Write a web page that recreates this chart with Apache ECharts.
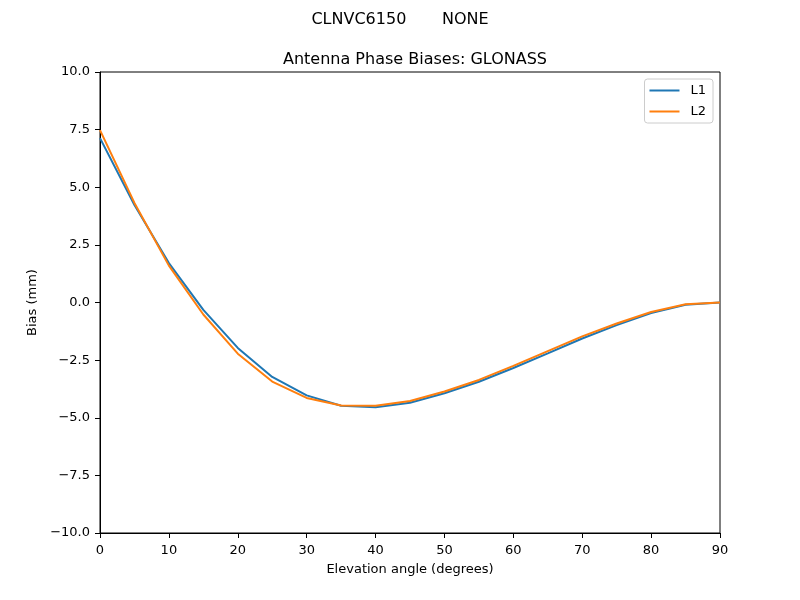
<!DOCTYPE html>
<html>
<head>
<meta charset="utf-8">
<script src="https://cdn.jsdelivr.net/npm/echarts@6/dist/echarts.min.js"></script>
<style>
html, body { margin: 0; padding: 0; background: #fff; }
#main { width: 800px; height: 600px; }
</style>
</head>
<body>
<div id="main"></div>
<script>
// elevation angles (degrees)
var elevation = [0, 5, 10, 15, 20, 25, 30, 35, 40, 45, 50, 55, 60, 65, 70, 75, 80, 85, 90];
// biases (mm)
var l1Bias = [7.13, 4.23, 1.71, -0.32, -1.97, -3.23, -4.03, -4.48, -4.54, -4.35, -3.94, -3.44, -2.84, -2.21, -1.56, -0.98, -0.46, -0.1, 0];
var l2Bias = [7.48, 4.32, 1.6, -0.52, -2.22, -3.43, -4.14, -4.47, -4.48, -4.27, -3.86, -3.36, -2.75, -2.11, -1.47, -0.91, -0.41, -0.08, 0];

var myChart = echarts.init(document.getElementById("main"));

function toPairs(ys) {
    var out = [];
    for (var i = 0; i < elevation.length; i++) out.push([elevation[i], ys[i]]);
    return out;
}

function fmtY(v) {
    var s = Math.abs(v).toFixed(1);
    return v < 0 ? '\u2212' + s : s;
}

var font = 'DejaVu Sans';

var option = {
    animation: false,
    // 标题：上面是天线名，下面是图名
    title: [
        {
            text: 'CLNVC6150       NONE',
            left: 'center',
            top: 7,
            textStyle: { fontFamily: font, fontSize: 16, fontWeight: 'normal', color: '#000' }
        },
        {
            text: 'Antenna Phase Biases: GLONASS',
            left: 410,
            textAlign: 'center',
            top: 47,
            textStyle: { fontFamily: font, fontSize: 16, fontWeight: 'normal', color: '#000' }
        }
    ],
    legend: {
        orient: 'vertical',
        right: 87,
        top: 79,
        data: ['L1', 'L2'],
        icon: 'rect',
        itemWidth: 30,
        itemHeight: 2,
        itemGap: 8,
        padding: [5, 7, 5, 5],
        borderColor: '#cccccc',
        borderWidth: 1,
        borderRadius: 3,
        textStyle: { fontFamily: font, fontSize: 13, color: '#000', padding: [0, 0, 0, 6] }
    },
    grid: {
        left: 100,
        right: 80,
        top: 72,
        bottom: 67,
        show: true,
        borderColor: '#000',
        borderWidth: 1,
        containLabel: false
    },
    xAxis: {
        type: 'value',
        min: 0,
        max: 90,
        interval: 10,
        name: 'Elevation angle (degrees)',
        nameLocation: 'middle',
        nameGap: 30,
        nameTextStyle: { fontFamily: font, fontSize: 13, color: '#000' },
        axisLine: { onZero: false, lineStyle: { color: '#000', width: 1 } },
        axisTick: { show: true, length: 5, lineStyle: { color: '#000' } },
        axisLabel: { fontFamily: font, fontSize: 13, color: '#000', margin: 11 },
        splitLine: { show: false }
    },
    yAxis: {
        type: 'value',
        min: -10,
        max: 10,
        interval: 2.5,
        name: 'Bias (mm)',
        nameLocation: 'middle',
        nameGap: 56,
        nameTextStyle: { fontFamily: font, fontSize: 13, color: '#000' },
        axisLine: { show: true, onZero: false, lineStyle: { color: '#000', width: 1 } },
        axisTick: { show: true, length: 5, lineStyle: { color: '#000' } },
        axisLabel: { fontFamily: font, fontSize: 13, color: '#000', margin: 10, formatter: fmtY },
        splitLine: { show: false }
    },
    series: [
        {
            name: 'L1',
            type: 'line',
            color: '#1f77b4',
            showSymbol: false,
            lineStyle: { width: 2 },
            data: toPairs(l1Bias)
        },
        {
            name: 'L2',
            type: 'line',
            color: '#ff7f0e',
            showSymbol: false,
            lineStyle: { width: 2 },
            data: toPairs(l2Bias)
        }
    ]
};

myChart.setOption(option);
</script>
</body>
</html>
